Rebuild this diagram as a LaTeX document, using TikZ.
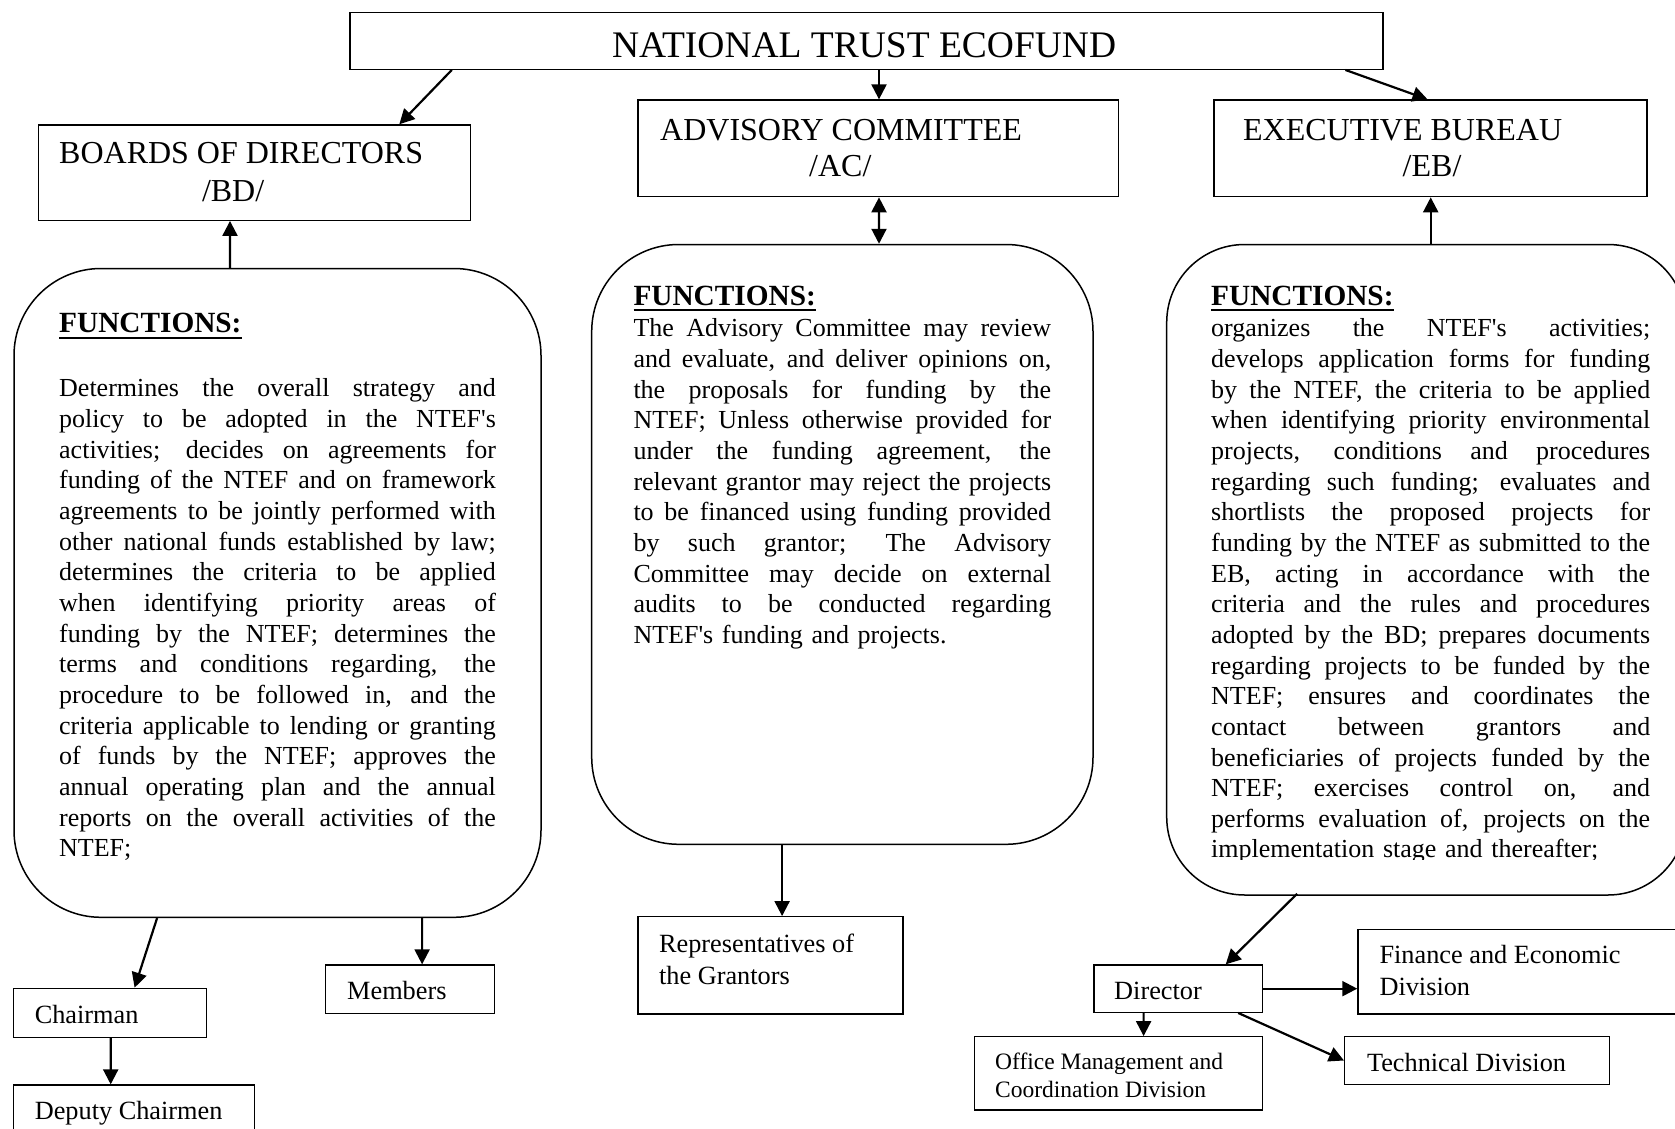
\documentclass[tikz,border=0pt]{standalone}
\usepackage{fontspec}
\newfontfamily\tms{Liberation Serif}
\usetikzlibrary{arrows.meta,fit}
\setlength\parindent{0pt}
\newcommand\jw{400pt}
\newcommand\jl[1]{\noindent\hbox to \jw{\spaceskip=0.25em plus 3em minus 0.08em\relax\rule{0pt}{22pt}#1}\par}
\newcommand\lastl[1]{\noindent\hbox to \jw{\rule{0pt}{22pt}#1\hfil}\par}
\newcommand\fnhead{\setbox0\hbox{FUNCTIONS:}\rlap{\copy0}\rule[-6pt]{\wd0}{1.8pt}}
\tikzset{
  box/.style={draw, line width=1.3pt, inner sep=0pt, rectangle},
  rbox/.style={draw, line width=1.5pt, inner sep=0pt, rectangle, rounded corners=#1},
  arr/.style={line width=2.2pt, -{Triangle[length=15pt,width=15pt]}},
  darr/.style={line width=2.2pt, {Triangle[length=15pt,width=15pt]}-{Triangle[length=15pt,width=15pt]}},
  ttl/.style={anchor=base west, inner sep=0pt, font=\tms\fontsize{37.5}{44}\selectfont},
  hdr/.style={anchor=base west, inner sep=0pt, font=\tms\fontsize{32}{37}\selectfont},
  fnh/.style={anchor=base west, inner sep=0pt, font=\tms\bfseries\fontsize{29.3}{35}\selectfont},
  bodyt/.style={anchor=north west, inner sep=0pt, text width=#1, font=\tms\fontsize{26}{30.65}\selectfont},
  smt/.style={anchor=base west, inner sep=0pt, font=\tms\fontsize{26.3}{31.5}\selectfont},
  smml/.style={anchor=north west, inner sep=0pt, align=left, font=\tms\fontsize{26.3}{31.5}\selectfont},
  offt/.style={anchor=north west, inner sep=0pt, align=left, font=\tms\fontsize{23.5}{28}\selectfont},
}
\begin{document}
\begin{tikzpicture}[x=1pt,y=-1pt]
\useasboundingbox (0,0) rectangle (1675,1129);
\fill[white] (0,0) rectangle (1675,1129);
\clip (0,0) rectangle (1675,1129);

% boxes
\node[box, fit={(350,12.7) (1382.9,69.3)}] (ntef) {};
\node[box, fit={(38.2,125) (470.4,220.3)}] (bd) {};
\node[box, fit={(637.9,100) (1118.6,196.7)}] (ac) {};
\node[box, fit={(1213.9,100) (1647,196.7)}] (eb) {};
\node[rbox=87pt, fit={(14,268.5) (541,917.3)}] (bdf) {};
\node[rbox=87pt, fit={(591.7,244.5) (1093,844.3)}] (acf) {};
\node[rbox=78pt, fit={(1166.7,244.5) (1686,895)}] (ebf) {};
\node[box, fit={(13.6,988.3) (206.4,1037.3)}] (chair) {};
\node[box, fit={(13.6,1085) (254.6,1140)}] (deputy) {};
\node[box, fit={(325.7,965) (494.6,1013.3)}] (members) {};
\node[box, fit={(637.9,916.7) (902.9,1014)}] (reps) {};
\node[box, fit={(1094,965) (1262.5,1012.3)}] (director) {};
\node[box, fit={(1357.9,929.3) (1690,1014)}] (finance) {};
\node[box, fit={(974.3,1036.7) (1262.5,1110)}] (office) {};
\node[box, fit={(1344.6,1036.7) (1609.6,1084.3)}] (tech) {};

% titles
\node[ttl] (t-ntef) at (611.8,57.3) {NATIONAL TRUST ECOFUND};
\node[hdr] (t-bd1) at (59,164) {BOARDS OF DIRECTORS};
\node[hdr] (t-bd2) at (201.8,201) {/BD/};
\node[hdr] (t-ac1) at (660,140) {ADVISORY COMMITTEE};
\node[hdr] (t-ac2) at (809,176.7) {/AC/};
\node[hdr] (t-eb1) at (1242.9,140) {EXECUTIVE BUREAU};
\node[hdr] (t-eb2) at (1402.5,176.7) {/EB/};

% function headers
\node[fnh] (f-bd) at (59,332.7) {\fnhead};
\node[fnh] (f-ac) at (633.3,305) {\fnhead};
\node[fnh] (f-eb) at (1211,305) {\fnhead};

% BD body
\node[bodyt=436.7pt] (b-bd) at (59,374.7) {\renewcommand\jw{436.7pt}%
\jl{Determines the overall strategy and}
\jl{policy to be adopted in the NTEF's}
\jl{activities; decides on agreements for}
\jl{funding of the NTEF and on framework}
\jl{agreements to be jointly performed with}
\jl{other national funds established by law;}
\jl{determines the criteria to be applied}
\jl{when identifying priority areas of}
\jl{funding by the NTEF; determines the}
\jl{terms and conditions regarding, the}
\jl{procedure to be followed in, and the}
\jl{criteria applicable to lending or granting}
\jl{of funds by the NTEF; approves the}
\jl{annual operating plan and the annual}
\jl{reports on the overall activities of the}
\lastl{NTEF;}};

% AC body
\node[bodyt=417.7pt] (b-ac) at (633.3,314.7) {\renewcommand\jw{417.7pt}%
\jl{The Advisory Committee may review}
\jl{and evaluate, and deliver opinions on,}
\jl{the proposals for funding by the}
\jl{NTEF; Unless otherwise provided for}
\jl{under the funding agreement, the}
\jl{relevant grantor may reject the projects}
\jl{to be financed using funding provided}
\jl{by such grantor; The Advisory}
\jl{Committee may decide on external}
\jl{audits to be conducted regarding}
\lastl{NTEF's funding and projects.}};

% EB body (last line cut by the frame)
\begin{scope}
\clip (1150,0) rectangle (1700,859.5);
\node[bodyt=439pt] (b-eb) at (1211,314.7) {\renewcommand\jw{439pt}%
\jl{organizes the NTEF's activities;}
\jl{develops application forms for funding}
\jl{by the NTEF, the criteria to be applied}
\jl{when identifying priority environmental}
\jl{projects, conditions and procedures}
\jl{regarding such funding; evaluates and}
\jl{shortlists the proposed projects for}
\jl{funding by the NTEF as submitted to the}
\jl{EB, acting in accordance with the}
\jl{criteria and the rules and procedures}
\jl{adopted by the BD; prepares documents}
\jl{regarding projects to be funded by the}
\jl{NTEF; ensures and coordinates the}
\jl{contact between grantors and}
\jl{beneficiaries of projects funded by the}
\jl{NTEF; exercises control on, and}
\jl{performs evaluation of, projects on the}
\lastl{implementation stage and thereafter;}};
\end{scope}

% small boxes text
\node[smt] (t-chair) at (34.6,1023.3) {Chairman};
\node[smt] (t-deputy) at (34.6,1119.3) {Deputy Chairmen};
\node[smt] (t-members) at (347,999.3) {Members};
\node[smml] (t-reps) at (658.9,932.7) {\rule{0pt}{20pt}Representatives of\\the Grantors};
\node[smt] (t-director) at (1114,999.3) {Director};
\node[smml] (t-finance) at (1379.3,943.3) {\rule{0pt}{20pt}Finance and Economic\\Division};
\node[smt] (t-tech) at (1366.8,1071.7) {Technical Division};
\node[offt] (t-office) at (995,1051.3) {\rule{0pt}{18pt}Office Management and\\Coordination Division};

% connectors
\draw[arr] ([xshift=-414.65pt]ntef.south) -- ([xshift=145pt]bd.north);
\draw[arr] ([xshift=12.55pt]ntef.south) -- ([xshift=0.75pt]ac.north);
\draw[arr] ([xshift=478.95pt]ntef.south) -- ([xshift=-2.95pt]eb.north);
\draw[arr] ([xshift=-47.5pt]bdf.north) -- ([xshift=-24.3pt]bd.south);
\draw[darr] ([xshift=0.75pt]ac.south) -- ([xshift=36.65pt]acf.north);
\draw[arr] ([xshift=4.35pt]ebf.north) -- ([xshift=0.25pt]eb.south);
\draw[arr] ([xshift=-120.4pt]bdf.south) -- ([xshift=24.6pt]chair.north);
\draw[arr] ([xshift=144.6pt]bdf.south) -- ([xshift=11.95pt]members.north);
\draw[arr] ([xshift=0.7pt]chair.south) -- ([xshift=-23.4pt]deputy.north);
\draw[arr] ([xshift=-60.25pt]acf.south) -- ([xshift=11.7pt]reps.north);
\draw[arr] ([xshift=-129.25pt,yshift=2pt]ebf.south) -- ([xshift=47.45pt]director.north);
\draw[arr] (director.east) -- (director.east -| finance.west);
\draw[arr] ([xshift=-34.65pt]director.south) -- ([xshift=25.2pt]office.north);
\draw[arr] ([xshift=59.95pt]director.south) -- (tech.west);
\end{tikzpicture}
\end{document}
